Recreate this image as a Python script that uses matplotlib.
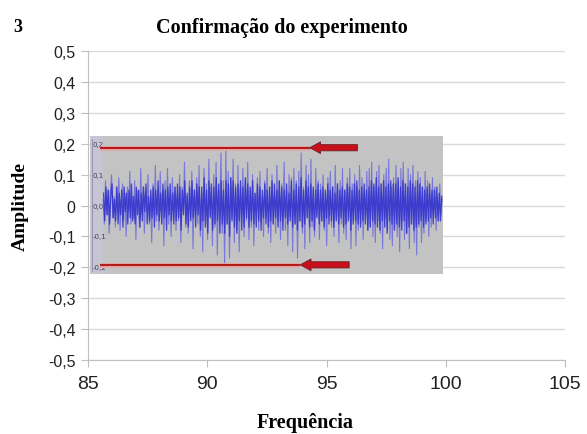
import numpy as np
import matplotlib
matplotlib.use("Agg")
import matplotlib.pyplot as plt
from matplotlib.patches import Rectangle, FancyArrow

# ---- data ----
y_ticks = [0.5, 0.4, 0.3, 0.2, 0.1, 0.0, -0.1, -0.2, -0.3, -0.4, -0.5]
y_tick_labels = ["0,5", "0,4", "0,3", "0,2", "0,1", "0", "-0,1", "-0,2", "-0,3", "-0,4", "-0,5"]
x_ticks = [85, 90, 95, 100, 105]
x_tick_labels = ["85", "90", "95", "100", "105"]

inner_ticks = [0.2, 0.1, 0.0, -0.1, -0.2]
inner_tick_labels = ["0,2", "0,1", "0,0", "-0,1", "-0,2"]

signal_start = 85.63
signal_end = 99.85
# spiky envelope of the recorded signal (lighter trace)
signal = [
    0.02,-0.06,0.08,-0.03,0.05,-0.09,0.04,0.10,-0.04,0.03,-0.07,0.06,-0.02,0.09,-0.08,0.01,0.07,-0.05,0.04,-0.10,
    0.06,-0.02,0.11,-0.06,0.03,-0.04,0.08,-0.11,0.05,0.02,-0.07,0.12,-0.03,0.06,-0.09,0.04,-0.01,0.10,-0.06,0.03,
    -0.12,0.07,-0.03,0.13,-0.05,0.02,-0.08,0.11,-0.02,0.05,-0.13,0.08,-0.04,0.12,-0.06,0.03,-0.10,0.09,-0.01,0.06,
    -0.08,0.04,-0.05,0.10,-0.12,0.06,-0.02,0.14,-0.07,0.03,-0.09,0.08,-0.04,0.11,-0.14,0.05,-0.03,0.09,-0.06,0.13,
    -0.10,0.04,-0.15,0.12,-0.05,0.07,-0.11,0.15,-0.03,0.06,-0.13,0.10,-0.07,0.14,-0.16,0.05,-0.02,0.17,-0.09,0.08,
    -0.19,0.18,-0.06,0.11,-0.17,0.09,-0.04,0.15,-0.12,0.07,-0.08,0.13,-0.15,0.06,-0.03,0.12,-0.10,0.08,-0.05,0.14,
    -0.11,0.05,-0.07,0.10,-0.13,0.04,-0.02,0.09,-0.08,0.11,-0.05,0.03,-0.10,0.08,-0.04,0.12,-0.09,0.06,-0.12,0.10,
    -0.06,0.04,-0.09,0.13,-0.05,0.08,-0.11,0.07,-0.03,0.14,-0.08,0.05,-0.13,0.10,-0.04,0.09,-0.15,0.12,-0.06,0.08,
    -0.17,0.11,-0.05,0.17,-0.09,0.06,-0.14,0.13,-0.04,0.10,-0.12,0.15,-0.07,0.05,-0.10,0.12,-0.03,0.08,-0.11,0.07,
    -0.05,0.10,-0.08,0.04,-0.13,0.09,-0.03,0.11,-0.07,0.06,-0.10,0.13,-0.04,0.07,-0.12,0.08,-0.06,0.12,-0.09,0.05,
    -0.11,0.09,-0.04,0.12,-0.14,0.07,-0.05,0.10,-0.13,0.06,-0.08,0.13,-0.06,0.09,-0.11,0.05,-0.03,0.11,-0.08,0.12,
    -0.07,0.14,-0.10,0.06,-0.12,0.11,-0.05,0.13,-0.09,0.07,-0.14,0.10,-0.04,0.12,-0.08,0.15,-0.11,0.06,-0.13,0.09,
    -0.06,0.13,-0.10,0.08,-0.15,0.12,-0.05,0.14,-0.11,0.07,-0.09,0.12,-0.14,0.10,-0.06,0.13,-0.12,0.08,-0.16,0.11,
    -0.07,0.09,-0.12,0.06,-0.09,0.11,-0.05,0.08,-0.10,0.04,-0.07,0.09,-0.04,0.06,-0.08,0.03,-0.05,0.07,-0.03,0.02,
]
# dense core of the recorded signal (darker trace)
signal_core = [
    0.04,-0.05,0.06,-0.03,0.05,-0.06,0.03,0.07,-0.04,0.02,-0.05,0.06,-0.06,0.04,-0.03,0.05,-0.07,0.06,-0.02,0.04,
    -0.06,0.05,-0.04,0.07,-0.05,0.03,-0.06,0.06,-0.03,0.05,-0.07,0.04,-0.05,0.06,-0.02,0.07,-0.06,0.03,-0.05,0.05,
    -0.04,0.06,-0.07,0.05,-0.03,0.08,-0.05,0.04,-0.06,0.07,-0.04,0.05,-0.08,0.06,-0.03,0.07,-0.05,0.04,-0.06,0.06,
    -0.05,0.07,-0.04,0.06,-0.08,0.05,-0.03,0.08,-0.06,0.04,-0.07,0.06,-0.05,0.08,-0.04,0.05,-0.07,0.07,-0.03,0.06,
    -0.08,0.06,-0.05,0.09,-0.07,0.05,-0.09,0.08,-0.04,0.07,-0.08,0.06,-0.06,0.09,-0.05,0.07,-0.09,0.08,-0.06,0.05,
    -0.09,0.08,-0.06,0.07,-0.10,0.09,-0.05,0.08,-0.07,0.06,-0.09,0.07,-0.05,0.08,-0.08,0.06,-0.07,0.09,-0.04,0.07,
    -0.07,0.06,-0.05,0.08,-0.06,0.04,-0.07,0.07,-0.05,0.06,-0.08,0.05,-0.04,0.07,-0.06,0.05,-0.07,0.06,-0.05,0.08,
    -0.06,0.07,-0.04,0.05,-0.07,0.08,-0.05,0.06,-0.08,0.05,-0.04,0.07,-0.06,0.04,-0.05,0.08,-0.07,0.05,-0.06,0.07,
    -0.08,0.06,-0.05,0.09,-0.07,0.05,-0.06,0.08,-0.04,0.06,-0.07,0.07,-0.05,0.06,-0.08,0.05,-0.04,0.07,-0.06,0.05,
    -0.05,0.06,-0.07,0.05,-0.04,0.07,-0.06,0.05,-0.05,0.06,-0.07,0.04,-0.05,0.07,-0.06,0.05,-0.04,0.06,-0.07,0.05,
    -0.06,0.07,-0.05,0.06,-0.08,0.05,-0.06,0.07,-0.05,0.08,-0.06,0.05,-0.07,0.06,-0.05,0.07,-0.06,0.05,-0.08,0.06,
    -0.07,0.08,-0.05,0.07,-0.06,0.09,-0.07,0.06,-0.08,0.07,-0.05,0.08,-0.07,0.06,-0.09,0.07,-0.05,0.08,-0.06,0.07,
    -0.08,0.07,-0.06,0.09,-0.07,0.06,-0.08,0.08,-0.05,0.07,-0.09,0.06,-0.07,0.08,-0.06,0.07,-0.08,0.06,-0.07,0.08,
    -0.06,0.07,-0.05,0.06,-0.07,0.05,-0.06,0.06,-0.05,0.07,-0.04,0.05,-0.06,0.05,-0.04,0.06,-0.05,0.04,-0.05,0.03,
]

box_x0, box_x1 = 85.08, 99.88
box_y0, box_y1 = -0.222, 0.225
strip_x1 = 85.62

top_line = 0.187
bottom_line = -0.192
top_line_end = 94.3
bottom_line_end = 93.9
top_arrow_tail = 96.3
bottom_arrow_tail = 95.95

# ---- figure ----
fig = plt.figure(figsize=(5.87, 4.35), dpi=100)
ax = fig.add_axes([0.150, 0.170, 0.8125, 0.7105])

ax.set_xlim(85, 105)
ax.set_ylim(-0.5, 0.5)

for yt in y_ticks:
    ax.axhline(yt, color="#d9d9d9", lw=1.0, zorder=0)

ax.set_yticks(y_ticks)
ax.set_yticklabels(y_tick_labels, family="Liberation Sans", fontsize=11.5, color="#222222")
ax.set_xticks(x_ticks)
ax.set_xticklabels(x_tick_labels, family="Liberation Sans", fontsize=14, color="#222222")
ax.tick_params(axis="y", length=5, color="#bfbfbf", pad=4)
ax.tick_params(axis="x", length=5, color="#bfbfbf", pad=6)

for s in ["top", "right"]:
    ax.spines[s].set_visible(False)
ax.spines["left"].set_color("#bfbfbf")
ax.spines["bottom"].set_color("#bfbfbf")

# embedded screenshot area
ax.add_patch(Rectangle((box_x0, box_y0), box_x1 - box_x0, box_y1 - box_y0,
                       facecolor="#c3c3c3", edgecolor="none", zorder=2))
ax.add_patch(Rectangle((box_x0, box_y0), strip_x1 - box_x0, box_y1 - box_y0,
                       facecolor="#c6c6d2", edgecolor="none", zorder=2))
ax.plot([box_x0 + 0.08, box_x0 + 0.08], [box_y0 + 0.01, box_y1 - 0.01], color="#8a8aa0", lw=0.6, zorder=3)
for v, lab in zip(inner_ticks, inner_tick_labels):
    ax.text(box_x0 + 0.12, v, lab, fontsize=5, color="#4a3a5a", va="center", ha="left",
            family="Liberation Sans Narrow", zorder=3)

xs = np.linspace(signal_start, signal_end, len(signal))
ax.plot(xs, signal, color="#7474dc", lw=0.8, alpha=0.95, zorder=4)
xs_core = np.linspace(signal_start + 0.02, signal_end - 0.02, len(signal_core))
ax.plot(xs_core, signal_core, color="#3434cc", lw=0.9, alpha=0.9, zorder=4)

# red reference lines
for yv, xe in [(top_line, top_line_end), (bottom_line, bottom_line_end)]:
    ax.plot([strip_x1 - 0.1, xe], [yv, yv], color="#e8a8a8", lw=3.4, zorder=5, solid_capstyle="butt")
    ax.plot([strip_x1 - 0.1, xe], [yv, yv], color="#b41c1c", lw=1.5, zorder=6, solid_capstyle="butt")

for tail, tip, yv in [(top_arrow_tail, top_line_end, top_line),
                      (bottom_arrow_tail, bottom_line_end, bottom_line)]:
    ax.add_patch(FancyArrow(tail, yv, tip - tail, 0, width=0.02, head_width=0.038,
                            head_length=0.45, length_includes_head=True,
                            facecolor="#c8101c", edgecolor="#6a2020", lw=0.6, zorder=7))

ax.set_xlabel("Frequência", family="Liberation Serif", fontweight="bold", fontsize=14.5)
ax.xaxis.set_label_coords(0.455, -0.168)
ax.set_ylabel("Amplitude", family="Liberation Serif", fontweight="bold", fontsize=14)
ax.yaxis.set_label_coords(-0.124, 0.5)

fig.text(0.265, 0.935, "Confirmação do experimento", family="Liberation Serif",
         fontweight="bold", fontsize=14.5, ha="left", va="center")
fig.text(0.022, 0.937, "3", family="Liberation Serif", fontweight="bold", fontsize=13,
         ha="left", va="center")

fig.savefig("out.png", dpi=100)
